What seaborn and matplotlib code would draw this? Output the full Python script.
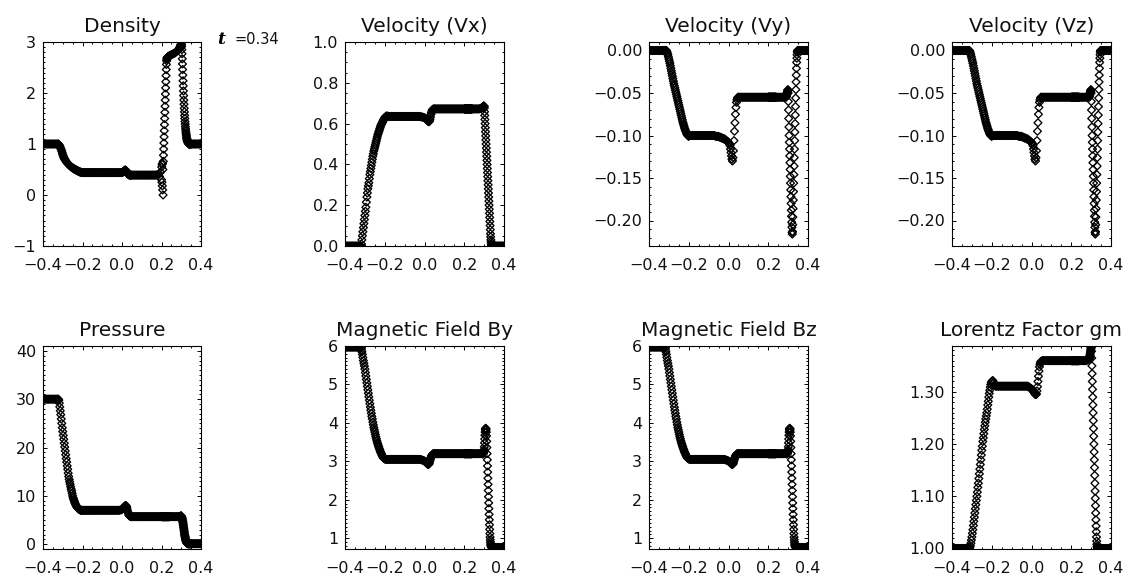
import numpy as np
import pandas as pd
import matplotlib
matplotlib.use("Agg")
import matplotlib.pyplot as plt
import seaborn as sns
from matplotlib.ticker import MultipleLocator

# ---------------- data ----------------
X = [
    -0.400, -0.395, -0.390, -0.385, -0.380, -0.375, -0.370, -0.365, -0.360, -0.355,
    -0.350, -0.345, -0.340, -0.335, -0.330, -0.325, -0.3225, -0.320, -0.3175, -0.315,
    -0.3125, -0.310, -0.3075, -0.305, -0.3025, -0.300, -0.2975, -0.295, -0.2925, -0.290,
    -0.2875, -0.285, -0.2825, -0.280, -0.2775, -0.275, -0.2725, -0.270, -0.2675, -0.265,
    -0.2625, -0.260, -0.2575, -0.255, -0.2525, -0.250, -0.2475, -0.245, -0.2425, -0.240,
    -0.2375, -0.235, -0.2325, -0.230, -0.2275, -0.225, -0.2225, -0.220, -0.2175, -0.215,
    -0.2125, -0.210, -0.2075, -0.205, -0.2025, -0.200, -0.195, -0.190, -0.185, -0.180,
    -0.175, -0.170, -0.165, -0.160, -0.155, -0.150, -0.145, -0.140, -0.135, -0.130,
    -0.125, -0.120, -0.115, -0.110, -0.105, -0.100, -0.095, -0.090, -0.085, -0.080,
    -0.075, -0.070, -0.065, -0.060, -0.055, -0.050, -0.045, -0.040, -0.035, -0.030,
    -0.025, -0.020, -0.015, -0.010, -0.005, 0.000, 0.0025, 0.005, 0.0075, 0.010,
    0.0125, 0.015, 0.0175, 0.020, 0.0225, 0.025, 0.0275, 0.030, 0.0325, 0.035,
    0.0375, 0.040, 0.0425, 0.045, 0.0475, 0.050, 0.055, 0.060, 0.065, 0.070,
    0.075, 0.080, 0.085, 0.090, 0.095, 0.100, 0.105, 0.110, 0.115, 0.120,
    0.125, 0.130, 0.135, 0.140, 0.145, 0.150, 0.155, 0.160, 0.165, 0.170,
    0.175, 0.180, 0.185, 0.190, 0.195,
    0.200, 0.201, 0.202, 0.203, 0.204, 0.205, 0.206, 0.207, 0.208, 0.209,
    0.210, 0.211, 0.212, 0.213, 0.214, 0.215, 0.216, 0.217, 0.218, 0.219,
    0.220, 0.221, 0.222, 0.223, 0.224, 0.225, 0.226, 0.227, 0.228, 0.229,
    0.230, 0.231, 0.232, 0.233, 0.234, 0.235, 0.236, 0.237, 0.238, 0.239,
    0.240, 0.245, 0.250, 0.255, 0.260, 0.265, 0.270, 0.275, 0.280, 0.285,
    0.290, 0.291, 0.292, 0.293, 0.294, 0.295, 0.296, 0.297, 0.298, 0.299,
    0.300, 0.301, 0.302, 0.303, 0.304, 0.305, 0.306, 0.307, 0.308, 0.309,
    0.310, 0.311, 0.312, 0.313, 0.314, 0.315, 0.316, 0.317, 0.318, 0.319,
    0.320, 0.321, 0.322, 0.323, 0.324, 0.325, 0.326, 0.327, 0.328, 0.329,
    0.330, 0.331, 0.332, 0.333, 0.334, 0.335, 0.336, 0.337, 0.338, 0.339,
    0.340, 0.341, 0.342, 0.343, 0.344, 0.345, 0.346, 0.347, 0.348, 0.349,
    0.350, 0.355, 0.360, 0.365, 0.370, 0.375, 0.380, 0.385, 0.390, 0.395, 0.400,
]

DENSITY = [
    1.00, 1.00, 1.00, 1.00, 1.00, 1.00, 1.00, 1.00, 1.00, 1.00,
    1.00, 1.00, 1.00, 1.00, 1.00, 1.00, 1.00, 0.99, 0.975, 0.96,
    0.935, 0.91, 0.885, 0.86, 0.825, 0.79, 0.765, 0.74, 0.72, 0.70,
    0.685, 0.67, 0.655, 0.64, 0.63, 0.62, 0.61, 0.60, 0.59, 0.58,
    0.57, 0.56, 0.552, 0.545, 0.537, 0.53, 0.525, 0.52, 0.512, 0.505,
    0.50, 0.495, 0.49, 0.485, 0.48, 0.475, 0.47, 0.465, 0.46, 0.455,
    0.451, 0.448, 0.446, 0.443, 0.441, 0.44, 0.44, 0.44, 0.44, 0.44,
    0.44, 0.44, 0.44, 0.44, 0.44, 0.44, 0.44, 0.44, 0.44, 0.44,
    0.44, 0.44, 0.44, 0.44, 0.44, 0.44, 0.44, 0.44, 0.44, 0.44,
    0.44, 0.44, 0.44, 0.44, 0.44, 0.44, 0.44, 0.44, 0.44, 0.44,
    0.44, 0.44, 0.44, 0.44, 0.44, 0.44, 0.445, 0.45, 0.46, 0.47,
    0.48, 0.49, 0.49, 0.48, 0.465, 0.44, 0.425, 0.41, 0.40, 0.395,
    0.392, 0.39, 0.39, 0.39, 0.39, 0.39, 0.39, 0.39, 0.39, 0.39,
    0.39, 0.39, 0.39, 0.39, 0.39, 0.39, 0.39, 0.39, 0.39, 0.39,
    0.39, 0.39, 0.39, 0.39, 0.39, 0.39, 0.39, 0.39, 0.39, 0.39,
    0.39, 0.40, 0.41, 0.36, 0.45,
    0.30, 0.55, 0.25, 0.60, 0.18, 0.62, 0.10, 0.50, 0.00, 0.66,
    0.78, 0.90, 1.02, 1.14, 1.26, 1.38, 1.50, 1.62, 1.74, 1.86,
    1.98, 2.10, 2.22, 2.34, 2.46, 2.56, 2.63, 2.66, 2.68, 2.69,
    2.69, 2.70, 2.70, 2.70, 2.71, 2.71, 2.71, 2.72, 2.72, 2.72,
    2.73, 2.74, 2.75, 2.76, 2.77, 2.78, 2.79, 2.81, 2.83, 2.85,
    2.86, 2.87, 2.88, 2.89, 2.90, 2.91, 2.92, 2.93, 2.94, 2.95,
    2.96, 2.95, 2.91, 2.85, 2.77, 2.67, 2.57, 2.46, 2.35, 2.24,
    2.14, 2.04, 1.95, 1.86, 1.78, 1.70, 1.63, 1.56, 1.50, 1.44,
    1.39, 1.34, 1.30, 1.26, 1.22, 1.19, 1.16, 1.13, 1.11, 1.09,
    1.07, 1.06, 1.05, 1.04, 1.03, 1.02, 1.02, 1.01, 1.01, 1.00,
    1.00, 1.00, 1.00, 1.00, 1.00, 1.00, 1.00, 1.00, 1.00, 1.00,
    1.00, 1.00, 1.00, 1.00, 1.00, 1.00, 1.00, 1.00, 1.00, 1.00, 1.00,
]

VEL_X = [
    0.0, 0.0, 0.0, 0.0, 0.0, 0.0, 0.0, 0.0, 0.0, 0.0,
    0.0, 0.0, 0.0, 0.0, 0.0, 0.0, 0.0, 0.0, 0.01, 0.03,
    0.05, 0.07, 0.09, 0.11, 0.13, 0.15, 0.17, 0.19, 0.215, 0.24,
    0.26, 0.28, 0.295, 0.31, 0.33, 0.35, 0.365, 0.38, 0.395, 0.41,
    0.425, 0.44, 0.452, 0.465, 0.475, 0.485, 0.495, 0.505, 0.515, 0.525,
    0.535, 0.545, 0.552, 0.56, 0.567, 0.575, 0.582, 0.59, 0.595, 0.60,
    0.605, 0.61, 0.615, 0.62, 0.625, 0.63, 0.635, 0.638, 0.636, 0.635,
    0.635, 0.635, 0.635, 0.635, 0.635, 0.635, 0.635, 0.635, 0.635, 0.635,
    0.635, 0.635, 0.635, 0.635, 0.635, 0.635, 0.635, 0.635, 0.635, 0.635,
    0.635, 0.635, 0.635, 0.635, 0.635, 0.635, 0.635, 0.635, 0.635, 0.635,
    0.635, 0.634, 0.633, 0.632, 0.630, 0.628, 0.627, 0.625, 0.622, 0.620,
    0.617, 0.615, 0.612, 0.610, 0.609, 0.612, 0.620, 0.632, 0.645, 0.655,
    0.662, 0.668, 0.670, 0.671, 0.672, 0.672, 0.672, 0.672, 0.672, 0.672,
    0.672, 0.672, 0.672, 0.672, 0.672, 0.672, 0.672, 0.672, 0.672, 0.672,
    0.672, 0.672, 0.672, 0.672, 0.672, 0.672, 0.672, 0.672, 0.672, 0.672,
    0.672, 0.672, 0.672, 0.672, 0.672,
    0.672, 0.672, 0.672, 0.672, 0.672, 0.672, 0.672, 0.672, 0.672, 0.672,
    0.672, 0.672, 0.672, 0.672, 0.672, 0.672, 0.672, 0.672, 0.672, 0.672,
    0.672, 0.672, 0.672, 0.672, 0.672, 0.672, 0.672, 0.672, 0.672, 0.672,
    0.672, 0.672, 0.672, 0.672, 0.672, 0.672, 0.672, 0.672, 0.672, 0.672,
    0.672, 0.672, 0.672, 0.672, 0.672, 0.672, 0.672, 0.672, 0.674, 0.676,
    0.678, 0.679, 0.680, 0.681, 0.682, 0.683, 0.684, 0.685, 0.686, 0.686,
    0.684, 0.676, 0.658, 0.640, 0.620, 0.600, 0.580, 0.560, 0.540, 0.520,
    0.500, 0.480, 0.460, 0.440, 0.420, 0.400, 0.380, 0.360, 0.340, 0.320,
    0.300, 0.280, 0.260, 0.240, 0.220, 0.200, 0.180, 0.160, 0.140, 0.120,
    0.100, 0.080, 0.060, 0.045, 0.030, 0.020, 0.010, 0.005, 0.000, 0.000,
    0.0, 0.0, 0.0, 0.0, 0.0, 0.0, 0.0, 0.0, 0.0, 0.0,
    0.0, 0.0, 0.0, 0.0, 0.0, 0.0, 0.0, 0.0, 0.0, 0.0, 0.0,
]

VEL_Y = [
    0.0, 0.0, 0.0, 0.0, 0.0, 0.0, 0.0, 0.0, 0.0, 0.0,
    0.0, 0.0, 0.0, 0.0, 0.0, 0.0, 0.0, 0.0, 0.0, 0.0,
    0.0, -0.001, -0.003, -0.005, -0.0075, -0.010, -0.0125, -0.015, -0.018, -0.021,
    -0.024, -0.027, -0.030, -0.033, -0.036, -0.039, -0.0415, -0.044, -0.0465, -0.049,
    -0.0515, -0.054, -0.0565, -0.059, -0.0615, -0.064, -0.0665, -0.069, -0.0715, -0.074,
    -0.0765, -0.079, -0.0815, -0.084, -0.086, -0.088, -0.090, -0.092, -0.0935, -0.095,
    -0.0965, -0.098, -0.099, -0.100, -0.1005, -0.101, -0.100, -0.100, -0.100, -0.100,
    -0.100, -0.100, -0.100, -0.100, -0.100, -0.100, -0.100, -0.100, -0.100, -0.100,
    -0.100, -0.100, -0.100, -0.100, -0.100, -0.100, -0.100, -0.100, -0.100, -0.100,
    -0.100, -0.100, -0.101, -0.101, -0.101, -0.101, -0.102, -0.102, -0.103, -0.103,
    -0.104, -0.104, -0.105, -0.106, -0.107, -0.108, -0.109, -0.110, -0.112, -0.116,
    -0.120, -0.124, -0.128, -0.130, -0.126, -0.118, -0.106, -0.095, -0.085, -0.075,
    -0.067, -0.061, -0.058, -0.056, -0.055, -0.055, -0.055, -0.055, -0.055, -0.055,
    -0.055, -0.055, -0.055, -0.055, -0.055, -0.055, -0.055, -0.055, -0.055, -0.055,
    -0.055, -0.055, -0.055, -0.055, -0.055, -0.055, -0.055, -0.055, -0.055, -0.055,
    -0.055, -0.055, -0.055, -0.055, -0.055,
    -0.055, -0.055, -0.055, -0.055, -0.055, -0.055, -0.055, -0.055, -0.055, -0.055,
    -0.055, -0.055, -0.055, -0.055, -0.055, -0.055, -0.055, -0.055, -0.055, -0.055,
    -0.055, -0.055, -0.055, -0.055, -0.055, -0.055, -0.055, -0.055, -0.055, -0.055,
    -0.055, -0.055, -0.055, -0.055, -0.055, -0.055, -0.055, -0.055, -0.055, -0.055,
    -0.055, -0.055, -0.055, -0.055, -0.055, -0.055, -0.055, -0.055, -0.055, -0.055,
    -0.055, -0.054, -0.053, -0.052, -0.051, -0.050, -0.049, -0.048, -0.047, -0.046,
    -0.050, -0.060, -0.070, -0.080, -0.090, -0.100, -0.108, -0.116, -0.124, -0.132,
    -0.140, -0.148, -0.156, -0.164, -0.172, -0.180, -0.188, -0.195, -0.202, -0.208,
    -0.214, -0.216, -0.213, -0.205, -0.196, -0.186, -0.176, -0.166, -0.156, -0.146,
    -0.136, -0.126, -0.116, -0.106, -0.096, -0.086, -0.076, -0.066, -0.056, -0.046,
    -0.037, -0.029, -0.021, -0.014, -0.009, -0.005, -0.002, -0.001, 0.000, 0.000,
    0.0, 0.0, 0.0, 0.0, 0.0, 0.0, 0.0, 0.0, 0.0, 0.0, 0.0,
]

VEL_Z = [
    0.0, 0.0, 0.0, 0.0, 0.0, 0.0, 0.0, 0.0, 0.0, 0.0,
    0.0, 0.0, 0.0, 0.0, 0.0, 0.0, 0.0, 0.0, 0.0, 0.0,
    0.0, -0.001, -0.003, -0.005, -0.0075, -0.010, -0.0125, -0.015, -0.018, -0.021,
    -0.024, -0.027, -0.030, -0.033, -0.036, -0.039, -0.0415, -0.044, -0.0465, -0.049,
    -0.0515, -0.054, -0.0565, -0.059, -0.0615, -0.064, -0.0665, -0.069, -0.0715, -0.074,
    -0.0765, -0.079, -0.0815, -0.084, -0.086, -0.088, -0.090, -0.092, -0.0935, -0.095,
    -0.0965, -0.098, -0.099, -0.100, -0.1005, -0.101, -0.100, -0.100, -0.100, -0.100,
    -0.100, -0.100, -0.100, -0.100, -0.100, -0.100, -0.100, -0.100, -0.100, -0.100,
    -0.100, -0.100, -0.100, -0.100, -0.100, -0.100, -0.100, -0.100, -0.100, -0.100,
    -0.100, -0.100, -0.101, -0.101, -0.101, -0.101, -0.102, -0.102, -0.103, -0.103,
    -0.104, -0.104, -0.105, -0.106, -0.107, -0.108, -0.109, -0.110, -0.112, -0.116,
    -0.120, -0.124, -0.128, -0.130, -0.126, -0.118, -0.106, -0.095, -0.085, -0.075,
    -0.067, -0.061, -0.058, -0.056, -0.055, -0.055, -0.055, -0.055, -0.055, -0.055,
    -0.055, -0.055, -0.055, -0.055, -0.055, -0.055, -0.055, -0.055, -0.055, -0.055,
    -0.055, -0.055, -0.055, -0.055, -0.055, -0.055, -0.055, -0.055, -0.055, -0.055,
    -0.055, -0.055, -0.055, -0.055, -0.055,
    -0.055, -0.055, -0.055, -0.055, -0.055, -0.055, -0.055, -0.055, -0.055, -0.055,
    -0.055, -0.055, -0.055, -0.055, -0.055, -0.055, -0.055, -0.055, -0.055, -0.055,
    -0.055, -0.055, -0.055, -0.055, -0.055, -0.055, -0.055, -0.055, -0.055, -0.055,
    -0.055, -0.055, -0.055, -0.055, -0.055, -0.055, -0.055, -0.055, -0.055, -0.055,
    -0.055, -0.055, -0.055, -0.055, -0.055, -0.055, -0.055, -0.055, -0.055, -0.055,
    -0.055, -0.054, -0.053, -0.052, -0.051, -0.050, -0.049, -0.048, -0.047, -0.046,
    -0.050, -0.060, -0.070, -0.080, -0.090, -0.100, -0.108, -0.116, -0.124, -0.132,
    -0.140, -0.148, -0.156, -0.164, -0.172, -0.180, -0.188, -0.195, -0.202, -0.208,
    -0.214, -0.216, -0.213, -0.205, -0.196, -0.186, -0.176, -0.166, -0.156, -0.146,
    -0.136, -0.126, -0.116, -0.106, -0.096, -0.086, -0.076, -0.066, -0.056, -0.046,
    -0.037, -0.029, -0.021, -0.014, -0.009, -0.005, -0.002, -0.001, 0.000, 0.000,
    0.0, 0.0, 0.0, 0.0, 0.0, 0.0, 0.0, 0.0, 0.0, 0.0, 0.0,
]

PRESSURE = [
    30.0, 30.0, 30.0, 30.0, 30.0, 30.0, 30.0, 30.0, 30.0, 30.0,
    30.0, 30.0, 30.0, 30.0, 30.0, 30.0, 30.0, 29.8, 29.2, 28.4,
    27.6, 26.8, 25.9, 25.0, 24.1, 23.3, 22.5, 21.7, 20.9, 20.1,
    19.3, 18.5, 17.7, 17.0, 16.2, 15.5, 14.7, 14.0, 13.4, 12.9,
    12.4, 11.9, 11.4, 11.0, 10.5, 10.0, 9.6, 9.3, 9.0, 8.7,
    8.45, 8.2, 8.0, 7.8, 7.65, 7.5, 7.4, 7.3, 7.22, 7.15,
    7.1, 7.05, 7.02, 7.0, 7.0, 7.0, 7.0, 7.0, 7.0, 7.0,
    7.0, 7.0, 7.0, 7.0, 7.0, 7.0, 7.0, 7.0, 7.0, 7.0,
    7.0, 7.0, 7.0, 7.0, 7.0, 7.0, 7.0, 7.0, 7.0, 7.0,
    7.0, 7.0, 7.0, 7.0, 7.0, 7.0, 7.0, 7.0, 7.0, 7.0,
    7.0, 7.0, 7.0, 7.05, 7.1, 7.2, 7.3, 7.4, 7.5, 7.6,
    7.75, 7.9, 8.0, 8.0, 7.8, 7.5, 7.0, 6.6, 6.3, 6.0,
    5.9, 5.8, 5.75, 5.7, 5.7, 5.7, 5.7, 5.7, 5.7, 5.7,
    5.7, 5.7, 5.7, 5.7, 5.7, 5.7, 5.7, 5.7, 5.7, 5.7,
    5.7, 5.7, 5.7, 5.7, 5.7, 5.7, 5.7, 5.7, 5.7, 5.7,
    5.7, 5.7, 5.7, 5.7, 5.7,
    5.7, 5.7, 5.7, 5.7, 5.7, 5.7, 5.7, 5.7, 5.7, 5.7,
    5.7, 5.7, 5.7, 5.7, 5.7, 5.7, 5.7, 5.7, 5.7, 5.7,
    5.7, 5.7, 5.7, 5.7, 5.7, 5.7, 5.7, 5.7, 5.7, 5.7,
    5.7, 5.7, 5.7, 5.7, 5.7, 5.7, 5.7, 5.7, 5.7, 5.7,
    5.7, 5.7, 5.7, 5.7, 5.7, 5.7, 5.7, 5.7, 5.7, 5.7,
    5.7, 5.7, 5.7, 5.7, 5.7, 5.7, 5.75, 5.8, 5.85, 5.85,
    5.8, 5.7, 5.6, 5.5, 5.4, 5.2, 5.0, 4.8, 4.6, 4.4,
    4.1, 3.8, 3.5, 3.2, 2.9, 2.6, 2.3, 2.0, 1.8, 1.6,
    1.4, 1.2, 1.0, 0.85, 0.7, 0.6, 0.5, 0.4, 0.32, 0.25,
    0.2, 0.16, 0.13, 0.11, 0.1, 0.1, 0.1, 0.1, 0.1, 0.1,
    0.1, 0.1, 0.1, 0.1, 0.1, 0.1, 0.1, 0.1, 0.1, 0.1,
    0.1, 0.1, 0.1, 0.1, 0.1, 0.1, 0.1, 0.1, 0.1, 0.1, 0.1,
]

FIELD_BY = [
    5.97, 5.97, 5.97, 5.97, 5.97, 5.97, 5.97, 5.97, 5.97, 5.97,
    5.97, 5.97, 5.97, 5.97, 5.97, 5.97, 5.97, 5.95, 5.90, 5.85,
    5.78, 5.70, 5.62, 5.55, 5.48, 5.40, 5.31, 5.22, 5.13, 5.04,
    4.95, 4.86, 4.77, 4.68, 4.59, 4.50, 4.41, 4.33, 4.25, 4.17,
    4.10, 4.02, 3.95, 3.88, 3.82, 3.76, 3.70, 3.64, 3.59, 3.54,
    3.49, 3.45, 3.41, 3.37, 3.33, 3.30, 3.26, 3.23, 3.20, 3.17,
    3.14, 3.12, 3.10, 3.08, 3.07, 3.06, 3.05, 3.05, 3.05, 3.05,
    3.05, 3.05, 3.05, 3.05, 3.05, 3.05, 3.05, 3.05, 3.05, 3.05,
    3.05, 3.05, 3.05, 3.05, 3.05, 3.05, 3.05, 3.05, 3.05, 3.05,
    3.05, 3.05, 3.05, 3.05, 3.05, 3.05, 3.05, 3.05, 3.05, 3.05,
    3.05, 3.05, 3.04, 3.03, 3.02, 3.01, 3.00, 2.99, 2.975, 2.96,
    2.945, 2.93, 2.92, 2.92, 2.93, 2.96, 3.01, 3.06, 3.10, 3.14,
    3.16, 3.18, 3.19, 3.20, 3.20, 3.20, 3.20, 3.20, 3.20, 3.20,
    3.20, 3.20, 3.20, 3.20, 3.20, 3.20, 3.20, 3.20, 3.20, 3.20,
    3.20, 3.20, 3.20, 3.20, 3.20, 3.20, 3.20, 3.20, 3.20, 3.20,
    3.20, 3.20, 3.20, 3.20, 3.20,
    3.20, 3.20, 3.20, 3.20, 3.20, 3.20, 3.20, 3.20, 3.20, 3.20,
    3.20, 3.20, 3.20, 3.20, 3.20, 3.20, 3.20, 3.20, 3.20, 3.20,
    3.20, 3.20, 3.20, 3.20, 3.20, 3.20, 3.20, 3.20, 3.20, 3.20,
    3.20, 3.20, 3.20, 3.20, 3.20, 3.20, 3.20, 3.20, 3.20, 3.20,
    3.20, 3.20, 3.20, 3.20, 3.20, 3.20, 3.20, 3.20, 3.20, 3.20,
    3.20, 3.20, 3.20, 3.20, 3.20, 3.20, 3.21, 3.22, 3.24, 3.27,
    3.31, 3.38, 3.48, 3.58, 3.68, 3.76, 3.82, 3.85, 3.86, 3.85,
    3.82, 3.76, 3.66, 3.52, 3.36, 3.20, 3.04, 2.88, 2.72, 2.56,
    2.40, 2.24, 2.08, 1.92, 1.77, 1.62, 1.48, 1.35, 1.23, 1.12,
    1.03, 0.96, 0.90, 0.85, 0.82, 0.80, 0.78, 0.77, 0.76, 0.76,
    0.76, 0.76, 0.76, 0.76, 0.76, 0.76, 0.76, 0.76, 0.76, 0.76,
    0.76, 0.76, 0.76, 0.76, 0.76, 0.76, 0.76, 0.76, 0.76, 0.76, 0.76,
]

FIELD_BZ = [
    5.97, 5.97, 5.97, 5.97, 5.97, 5.97, 5.97, 5.97, 5.97, 5.97,
    5.97, 5.97, 5.97, 5.97, 5.97, 5.97, 5.97, 5.95, 5.90, 5.85,
    5.78, 5.70, 5.62, 5.55, 5.48, 5.40, 5.31, 5.22, 5.13, 5.04,
    4.95, 4.86, 4.77, 4.68, 4.59, 4.50, 4.41, 4.33, 4.25, 4.17,
    4.10, 4.02, 3.95, 3.88, 3.82, 3.76, 3.70, 3.64, 3.59, 3.54,
    3.49, 3.45, 3.41, 3.37, 3.33, 3.30, 3.26, 3.23, 3.20, 3.17,
    3.14, 3.12, 3.10, 3.08, 3.07, 3.06, 3.05, 3.05, 3.05, 3.05,
    3.05, 3.05, 3.05, 3.05, 3.05, 3.05, 3.05, 3.05, 3.05, 3.05,
    3.05, 3.05, 3.05, 3.05, 3.05, 3.05, 3.05, 3.05, 3.05, 3.05,
    3.05, 3.05, 3.05, 3.05, 3.05, 3.05, 3.05, 3.05, 3.05, 3.05,
    3.05, 3.05, 3.04, 3.03, 3.02, 3.01, 3.00, 2.99, 2.975, 2.96,
    2.945, 2.93, 2.92, 2.92, 2.93, 2.96, 3.01, 3.06, 3.10, 3.14,
    3.16, 3.18, 3.19, 3.20, 3.20, 3.20, 3.20, 3.20, 3.20, 3.20,
    3.20, 3.20, 3.20, 3.20, 3.20, 3.20, 3.20, 3.20, 3.20, 3.20,
    3.20, 3.20, 3.20, 3.20, 3.20, 3.20, 3.20, 3.20, 3.20, 3.20,
    3.20, 3.20, 3.20, 3.20, 3.20,
    3.20, 3.20, 3.20, 3.20, 3.20, 3.20, 3.20, 3.20, 3.20, 3.20,
    3.20, 3.20, 3.20, 3.20, 3.20, 3.20, 3.20, 3.20, 3.20, 3.20,
    3.20, 3.20, 3.20, 3.20, 3.20, 3.20, 3.20, 3.20, 3.20, 3.20,
    3.20, 3.20, 3.20, 3.20, 3.20, 3.20, 3.20, 3.20, 3.20, 3.20,
    3.20, 3.20, 3.20, 3.20, 3.20, 3.20, 3.20, 3.20, 3.20, 3.20,
    3.20, 3.20, 3.20, 3.20, 3.20, 3.20, 3.21, 3.22, 3.24, 3.27,
    3.31, 3.38, 3.48, 3.58, 3.68, 3.76, 3.82, 3.85, 3.86, 3.85,
    3.82, 3.76, 3.66, 3.52, 3.36, 3.20, 3.04, 2.88, 2.72, 2.56,
    2.40, 2.24, 2.08, 1.92, 1.77, 1.62, 1.48, 1.35, 1.23, 1.12,
    1.03, 0.96, 0.90, 0.85, 0.82, 0.80, 0.78, 0.77, 0.76, 0.76,
    0.76, 0.76, 0.76, 0.76, 0.76, 0.76, 0.76, 0.76, 0.76, 0.76,
    0.76, 0.76, 0.76, 0.76, 0.76, 0.76, 0.76, 0.76, 0.76, 0.76, 0.76,
]

LORENTZ = [
    1.000, 1.000, 1.000, 1.000, 1.000, 1.000, 1.000, 1.000, 1.000, 1.000,
    1.000, 1.000, 1.000, 1.000, 1.000, 1.000, 1.000, 1.000, 1.000, 1.000,
    1.001, 1.002, 1.005, 1.010, 1.016, 1.022, 1.029, 1.036, 1.044, 1.052,
    1.060, 1.068, 1.076, 1.084, 1.092, 1.100, 1.108, 1.117, 1.125, 1.134,
    1.143, 1.152, 1.161, 1.170, 1.179, 1.188, 1.196, 1.205, 1.212, 1.220,
    1.228, 1.235, 1.242, 1.248, 1.254, 1.260, 1.267, 1.275, 1.282, 1.290,
    1.297, 1.303, 1.309, 1.314, 1.318, 1.320, 1.322, 1.318, 1.313, 1.311,
    1.311, 1.311, 1.311, 1.311, 1.311, 1.311, 1.311, 1.311, 1.311, 1.311,
    1.311, 1.311, 1.311, 1.311, 1.311, 1.311, 1.311, 1.311, 1.311, 1.311,
    1.311, 1.311, 1.311, 1.311, 1.311, 1.311, 1.311, 1.311, 1.311, 1.311,
    1.311, 1.311, 1.310, 1.309, 1.307, 1.306, 1.305, 1.304, 1.302, 1.301,
    1.300, 1.298, 1.296, 1.295, 1.295, 1.296, 1.302, 1.310, 1.320, 1.330,
    1.340, 1.348, 1.353, 1.356, 1.358, 1.359, 1.360, 1.360, 1.360, 1.360,
    1.360, 1.360, 1.360, 1.360, 1.360, 1.360, 1.360, 1.360, 1.360, 1.360,
    1.360, 1.360, 1.360, 1.360, 1.360, 1.360, 1.360, 1.360, 1.360, 1.360,
    1.360, 1.360, 1.360, 1.360, 1.360,
    1.360, 1.360, 1.360, 1.360, 1.360, 1.360, 1.360, 1.360, 1.360, 1.360,
    1.360, 1.360, 1.360, 1.360, 1.360, 1.360, 1.360, 1.360, 1.360, 1.360,
    1.360, 1.360, 1.360, 1.360, 1.360, 1.360, 1.360, 1.360, 1.360, 1.360,
    1.360, 1.360, 1.360, 1.360, 1.360, 1.360, 1.360, 1.360, 1.360, 1.360,
    1.360, 1.360, 1.360, 1.360, 1.360, 1.360, 1.360, 1.360, 1.361, 1.362,
    1.363, 1.364, 1.366, 1.368, 1.370, 1.372, 1.375, 1.378, 1.381, 1.384,
    1.386, 1.385, 1.378, 1.365, 1.350, 1.335, 1.320, 1.305, 1.290, 1.275,
    1.260, 1.245, 1.230, 1.215, 1.200, 1.185, 1.170, 1.155, 1.140, 1.125,
    1.110, 1.096, 1.082, 1.068, 1.055, 1.043, 1.032, 1.022, 1.014, 1.008,
    1.004, 1.002, 1.001, 1.000, 1.000, 1.000, 1.000, 1.000, 1.000, 1.000,
    1.000, 1.000, 1.000, 1.000, 1.000, 1.000, 1.000, 1.000, 1.000, 1.000,
    1.000, 1.000, 1.000, 1.000, 1.000, 1.000, 1.000, 1.000, 1.000, 1.000, 1.000,
]

TITLES = ["Density", "Velocity (Vx)", "Velocity (Vy)", "Velocity (Vz)",
          "Pressure", "Magnetic Field By", "Magnetic Field Bz", "Lorentz Factor gm"]
X_TICKS = [-0.4, -0.2, 0.0, 0.2, 0.4]
X_TICK_LABELS = ["\u22120.4", "\u22120.2", "0.0", "0.2", "0.4"]
TIME_LABEL = "=0.34"

series = [DENSITY, VEL_X, VEL_Y, VEL_Z, PRESSURE, FIELD_BY, FIELD_BZ, LORENTZ]
for name, s in zip(TITLES, series):
    if len(s) != len(X):
        raise ValueError(f"{name}: {len(s)} values vs {len(X)} x")

# ---------------- layout / styling ----------------
# (ylim, major ticks, decimals, minor step)
axis_specs = [
    ((-1.0, 3.0), [-1, 0, 1, 2, 3], 0, 0.1),
    ((0.0, 1.0), [0.0, 0.2, 0.4, 0.6, 0.8, 1.0], 1, 0.05),
    ((-0.23, 0.01), [-0.20, -0.15, -0.10, -0.05, 0.0], 2, 0.01),
    ((-0.23, 0.01), [-0.20, -0.15, -0.10, -0.05, 0.0], 2, 0.01),
    ((-1.0, 41.0), [0, 10, 20, 30, 40], 0, 1.0),
    ((0.72, 6.0), [1, 2, 3, 4, 5, 6], 0, 0.1),
    ((0.72, 6.0), [1, 2, 3, 4, 5, 6], 0, 0.1),
    ((0.999, 1.388), [1.0, 1.1, 1.2, 1.3], 2, 0.01),
]

W, H = 1140, 578
col_left = [43, 345, 649, 952]
col_width = [158, 159, 159, 159]
row_box = [(42, 246), (346, 549)]


def fmt(v, d):
    return f"{v:.{d}f}".replace("-", "\u2212")


fig = plt.figure(figsize=(W / 100, H / 100), dpi=100)
fig.patch.set_facecolor("white")
plt.rcParams["font.family"] = ["DejaVu Sans"]

for i, (title, vals, spec) in enumerate(zip(TITLES, series, axis_specs)):
    r, c = divmod(i, 4)
    top, bot = row_box[r]
    ax = fig.add_axes([col_left[c] / W, 1 - bot / H, col_width[c] / W, (bot - top) / H])
    df = pd.DataFrame({"x": X, "y": vals})
    sns.scatterplot(data=df, x="x", y="y", ax=ax, marker="D", s=16,
                    facecolor="none", edgecolor="black", linewidth=0.95,
                    legend=False)
    coll = ax.collections[-1]
    coll.set_facecolor("none")
    coll.set_edgecolor("black")
    ylim, yt, dec, minor = spec
    ax.set_xlim(-0.4, 0.4)
    ax.set_ylim(*ylim)
    ax.set_xticks(X_TICKS)
    ax.set_xticklabels(X_TICK_LABELS)
    ax.xaxis.set_minor_locator(MultipleLocator(0.05))
    ax.set_yticks(yt)
    ax.set_yticklabels([fmt(v, dec) for v in yt])
    ax.yaxis.set_minor_locator(MultipleLocator(minor))
    ax.tick_params(which="both", direction="in", top=True, right=True,
                   width=0.7, color="black", labelcolor="#111111")
    ax.tick_params(which="major", length=3.2)
    ax.tick_params(which="minor", length=1.7)
    ax.tick_params(axis="x", which="major", pad=8.5, labelsize=11.5)
    ax.tick_params(axis="y", which="major", pad=5, labelsize=11.5)
    for sp in ax.spines.values():
        sp.set_linewidth(0.8)
        sp.set_color("black")
    ax.set_xlabel("")
    ax.set_ylabel("")
    ax.set_title(title, fontsize=14.5, pad=7.5, color="#111111")

fig.text(217 / W, 1 - 43.5 / H, "t", fontsize=12.5, fontstyle="italic",
         fontweight="bold", family="DejaVu Serif", va="baseline")
fig.text(235 / W, 1 - 43.5 / H, TIME_LABEL, fontsize=10.5, va="baseline",
         color="#111111")

fig.savefig("out.png", dpi=100, facecolor="white")
